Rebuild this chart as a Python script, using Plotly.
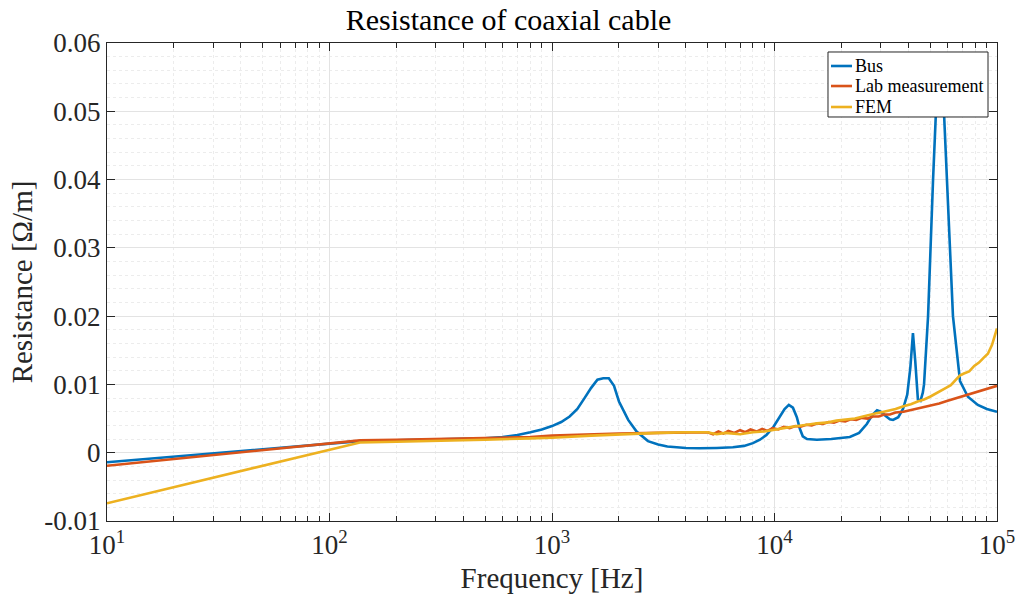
import plotly.graph_objects as go

# Bus model
bus_f = [10, 137, 200, 300, 400, 500, 600, 700, 800, 900, 1000, 1100, 1200, 1300, 1400,
         1500, 1600, 1700, 1800, 1900, 2000, 2200, 2400, 2700, 3000, 3300, 4000, 4600,
         5500, 6500, 7300, 8000, 8600, 9200, 9900, 10600, 11100, 11600, 12100, 12600,
         13000, 13400, 14000, 15500, 18000, 21800, 24000, 26000, 27500, 28900, 30000,
         31500, 33000, 34100, 36000, 37800, 39500, 40800, 41900, 42900, 44100, 45300,
         46400, 47000, 49000, 51600, 53500, 55000, 55700, 56500, 57700, 59600, 63400,
         68200, 74000, 82000, 90000, 100000]
bus_r = [-0.0014, 0.0017, 0.0018, 0.0019, 0.0020, 0.0021, 0.0023, 0.0026, 0.0030, 0.0034,
         0.0039, 0.0045, 0.0053, 0.0064, 0.0080, 0.0095, 0.0107, 0.0109, 0.0109, 0.0098,
         0.0075, 0.0048, 0.0031, 0.0017, 0.0012, 0.0009, 0.0007, 0.00065, 0.0007, 0.0008,
         0.0010, 0.0014, 0.0019, 0.0026, 0.0038, 0.0054, 0.0064, 0.0070, 0.0066, 0.0052,
         0.0035, 0.0024, 0.0020, 0.0019, 0.0020, 0.0023, 0.0029, 0.0042, 0.0055, 0.0062,
         0.0060, 0.0054, 0.0049, 0.0048, 0.0052, 0.0064, 0.0085, 0.0125, 0.0175, 0.0135,
         0.0078, 0.0076, 0.0088, 0.0100, 0.0200, 0.0400, 0.0520, 0.0570, 0.0580, 0.0570,
         0.0500, 0.0400, 0.0200, 0.0105, 0.0082, 0.0070, 0.0064, 0.0060]

# Lab measurement
lab_f = [10, 137, 200, 300, 500, 800, 1000, 1500, 2000, 3000, 4000, 5000, 5300, 5600,
         5900, 6200, 6600, 7000, 7400, 7800, 8300, 8800, 9300, 9800, 10400, 11000, 11700,
         12400, 13100, 13900, 14700, 15600, 16500, 17500, 18500, 19600, 20800, 22000,
         23300, 24700, 26200, 27700, 29400, 31100, 33000, 35000, 38000, 42000, 46000,
         50000, 55000, 60000, 66000, 72000, 80000, 88000, 100000]
lab_r = [-0.0019, 0.0018, 0.0019, 0.0020, 0.0021, 0.0023, 0.0025, 0.0027, 0.0028, 0.0029,
         0.0029, 0.0030, 0.0027, 0.0031, 0.0028, 0.0032, 0.0029, 0.0033, 0.0030, 0.0034,
         0.0031, 0.0035, 0.0032, 0.0036, 0.0034, 0.0038, 0.0036, 0.0039, 0.0038, 0.0041,
         0.0040, 0.0043, 0.0042, 0.0045, 0.0044, 0.0047, 0.0046, 0.0049, 0.0048, 0.0051,
         0.0050, 0.0053, 0.0053, 0.0056, 0.0056, 0.0059, 0.0060, 0.0063, 0.0066, 0.0069,
         0.0072, 0.0076, 0.0080, 0.0084, 0.0089, 0.0093, 0.0098]

# FEM simulation
fem_f = [10, 137, 200, 300, 500, 800, 1000, 1500, 2000, 3000, 4000, 5000, 5500, 6000,
         7000, 8000, 9000, 10000, 11000, 12000, 13000, 14000, 15500, 17000, 19000, 21000,
         23000, 25000, 27000, 29000, 31000, 33000, 35000, 38000, 41000, 44000, 47000,
         50000, 53000, 56000, 59000, 62000, 65000, 68000, 71000, 75000, 79000, 83000,
         87000, 91000, 95000, 100000]
fem_r = [-0.0074, 0.0015, 0.0016, 0.0017, 0.0019, 0.0021, 0.0022, 0.0025, 0.0027, 0.0029,
         0.0030, 0.0030, 0.0027, 0.0029, 0.0027, 0.0030, 0.0031, 0.0034, 0.0036, 0.0038,
         0.0039, 0.0041, 0.0043, 0.0044, 0.0047, 0.0049, 0.0050, 0.0053, 0.0056, 0.0058,
         0.0060, 0.0062, 0.0064, 0.0068, 0.0071, 0.0075, 0.0078, 0.0082, 0.0087, 0.0091,
         0.0095, 0.0099, 0.0106, 0.0113, 0.0116, 0.0119, 0.0127, 0.0132, 0.0139, 0.0145,
         0.0158, 0.0182]

series_names = ["Bus", "Lab measurement", "FEM"]
series_colors = ["#0072BD", "#D95319", "#EDB120"]

x_tickvals = [10, 100, 1000, 10000, 100000]
x_ticktext = ["10<sup>1</sup>", "10<sup>2</sup>", "10<sup>3</sup>", "10<sup>4</sup>", "10<sup>5</sup>"]
y_tickvals = [-0.01, 0, 0.01, 0.02, 0.03, 0.04, 0.05, 0.06]
y_ticktext = ["-0.01", "0", "0.01", "0.02", "0.03", "0.04", "0.05", "0.06"]

# minor log ticks at 2..9 within each decade
x_minor = [k * 10 ** d for d in range(1, 5) for k in range(2, 10)]

FONT = "Liberation Serif"
AX = "#262626"

fig = go.Figure()
for f, r, name, color in zip([bus_f, lab_f, fem_f], [bus_r, lab_r, fem_r],
                             series_names, series_colors):
    fig.add_trace(go.Scatter(x=f, y=r, mode="lines", name=name, showlegend=False,
                             line=dict(color=color, width=2.6)))

# compact boxed legend in the upper-right corner of the axes
box_x0, box_x1, box_y0, box_y1 = 0.8101, 0.9899, 0.8452, 0.9812
row_y = [0.9519, 0.9100, 0.8661]
shapes = [dict(type="rect", xref="paper", yref="paper", x0=box_x0, x1=box_x1,
               y0=box_y0, y1=box_y1, fillcolor="white", line=dict(color=AX, width=1),
               layer="above")]
annotations = []
for name, color, yy in zip(series_names, series_colors, row_y):
    shapes.append(dict(type="line", xref="paper", yref="paper", x0=0.8135, x1=0.8371,
                       y0=yy, y1=yy, line=dict(color=color, width=2.6), layer="above"))
    annotations.append(dict(text=name, xref="paper", yref="paper", x=0.8385, y=yy,
                            xanchor="left", yanchor="middle", showarrow=False,
                            font=dict(size=18, color="black", family=FONT)))

fig.update_layout(
    width=1017, height=606,
    margin=dict(l=107, r=20, t=43, b=85),
    paper_bgcolor="white", plot_bgcolor="white",
    font=dict(family=FONT, color=AX),
    title=dict(text="Resistance of coaxial cable", x=0.5, xanchor="center",
               y=0.967, yanchor="middle", font=dict(size=30, color="black", family=FONT)),
    shapes=shapes,
    annotations=annotations,
    showlegend=False,
)

fig.update_xaxes(
    type="log", range=[1, 5], automargin=False,
    tickvals=x_tickvals, ticktext=x_ticktext,
    ticks="inside", ticklen=8, tickcolor=AX, tickwidth=1,
    showline=True, linecolor=AX, linewidth=1, mirror="allticks",
    showgrid=True, gridcolor="#e3e3e3", gridwidth=1,
    minor=dict(tickvals=x_minor, ticks="inside", ticklen=5, tickcolor=AX, showgrid=True,
               gridcolor="#ececec", griddash="dot"),
    tickfont=dict(size=27, color=AX, family=FONT),
    title=dict(text="Frequency [Hz]", font=dict(size=29, color=AX, family=FONT), standoff=8),
    zeroline=False,
)
fig.update_yaxes(
    range=[-0.01, 0.06], automargin=False,
    tickvals=y_tickvals, ticktext=y_ticktext,
    ticks="inside", ticklen=8, tickcolor=AX, tickwidth=1,
    showline=True, linecolor=AX, linewidth=1, mirror="allticks",
    showgrid=True, gridcolor="#e3e3e3", gridwidth=1,
    minor=dict(dtick=0.002, tick0=0, showgrid=True, gridcolor="#ececec", griddash="dot"),
    tickfont=dict(size=27, color=AX, family=FONT),
    title=dict(text="Resistance [Ω/m]", font=dict(size=29, color=AX, family=FONT), standoff=3),
    zeroline=False,
)

fig.write_html("out.html")
